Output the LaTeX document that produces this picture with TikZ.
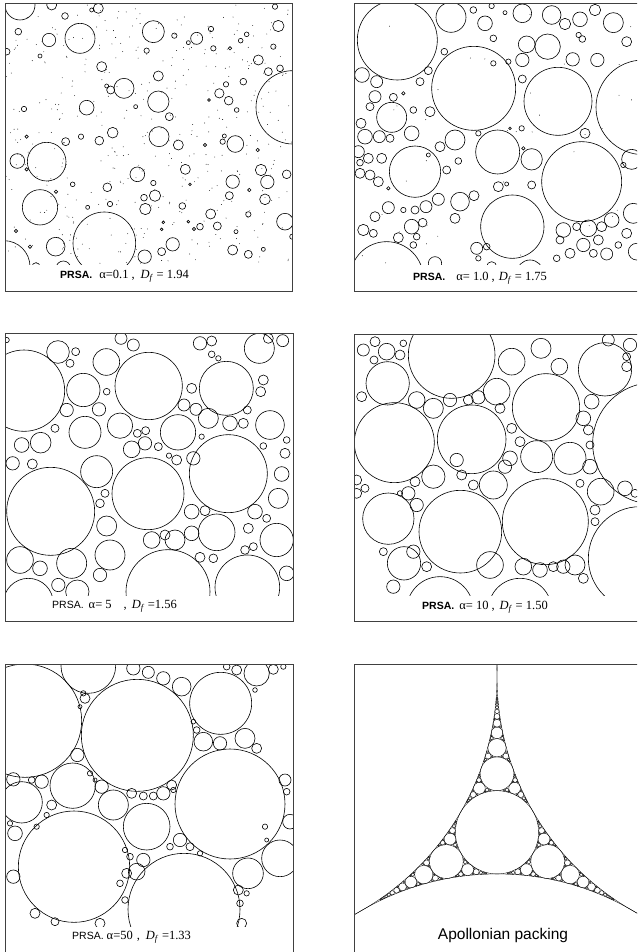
\documentclass[tikz,border=0pt]{standalone}
\usepackage{fontspec}
\setmainfont{Liberation Serif}
\newfontfamily\hvfont{Liberation Sans}
\usepackage{tikz}

\newcommand\prsab{{\hvfont\fontsize{10.5}{12}\selectfont\bfseries PRSA.}}
\newcommand\prsan{{\hvfont\fontsize{10.5}{12}\selectfont PRSA.}}
\newcommand\dfr{\textit{D}\textsubscript{\textit{f}}}

% ===== Apollonian gap filling (curvature k, k*x, k*y) =====
\def\apkmax{1.4}
\def\apsplit#1,#2,#3\relax{\def\ck{#1}\def\cx{#2}\def\cy{#3}}
\newcommand\apgap[4]{%
  \begingroup
  \apsplit#1\relax \let\ka\ck \let\xa\cx \let\ya\cy
  \apsplit#2\relax \let\kb\ck \let\xb\cx \let\yb\cy
  \apsplit#3\relax \let\kc\ck \let\xc\cx \let\yc\cy
  \apsplit#4\relax \let\kd\ck \let\xd\cx \let\yd\cy
  \edef\kn{\fpeval{2*(\ka+\kb+\kc)-\kd}}%
  \ifnum\fpeval{\kn<\apkmax}=1\relax
    \edef\xn{\fpeval{2*(\xa+\xb+\xc)-\xd}}%
    \edef\yn{\fpeval{2*(\ya+\yb+\yc)-\yd}}%
    \edef\apx{\fpeval{round(\xn/\kn,3)}}%
    \edef\apy{\fpeval{round(\yn/\kn,3)}}%
    \edef\apr{\fpeval{round(1/\kn,3)}}%
    \draw[apcirc] (\apx,\apy) circle (\apr);
    \edef\cn{\kn,\xn,\yn}%
    \edef\apnext{\noexpand\apgap{\cn}{#1}{#2}{#3}%
      \noexpand\apgap{\cn}{#2}{#3}{#1}%
      \noexpand\apgap{\cn}{#1}{#3}{#2}}%
    \apnext
  \fi
  \endgroup}

\begin{document}
\begin{tikzpicture}[x=1pt,y=-1pt,
  pcirc/.style={line width=0.6pt},
  apcirc/.style={line width=0.35pt},
  frame/.style={draw=black!75, line width=0.8pt},
  lab/.style={anchor=west, inner sep=0pt, font=\fontsize{12.5}{14}\selectfont}]
\useasboundingbox (0,0) rectangle (637,952);
\clip (0,0) rectangle (637,952);

% ===== panel 1: alpha = 0.1 =====
\begin{scope}[shift={(0,0)}, scale=1/3]
\begin{scope}
\clip (15,10) rectangle (878,795);
\foreach \px/\py/\pr in {60/15/45, 155/15/15, 295/25/15, 195/48/10, 275/30/6, 240/115/45,
  147/120/20, 55/95/10, 20/155/10, 120/168/6, 460/95/33, 523/107/8, 590/115/18, 633/87/8,
  640/145/8, 565/128/6, 440/152/8, 690/145/5, 722/122/7, 740/103/7, 835/78/17, 825/20/8,
  820/140/8, 775/180/15, 805/215/12, 840/205/10, 878/322/110, 305/200/15, 475/228/15,
  372/265/30, 332/270/12, 320/258/6, 475/305/32, 508/350/12, 260/323/22, 407/320/6,
  72/327/8, 658/280/14, 686/302/13, 678/253/8, 730/245/10, 710/330/7, 627/300/4,
  477/410/30, 535/435/15, 338/398/16, 298/422/13, 243/410/8, 197/425/12, 80/410/5,
  706/432/25, 673/408/6, 668/425/8, 615/435/5, 773/450/5, 140/485/58, 52/483/22, 80/508/5,
  218/553/7, 412/523/22, 556/508/15, 460/549/8, 322/562/13, 465/587/17, 432/593/10,
  436/627/17, 330/612/8, 547/618/10, 570/553/4, 698/545/20, 783/510/17, 802/546/20,
  860/523/13, 748/570/5, 688/587/12, 795/598/16, 120/622/53, 168/575/5, 263/622/6,
  632/642/15, 745/643/8, 855/665/25, 877/710/8, 652/678/12, 600/680/10, 582/687/5,
  565/665/4, 490/667/4, 485/688/4, 313/730/94, 12/800/78, 167/740/28, 108/800/12,
  190/805/22, 48/693/5, 90/740/5, 434/770/20, 518/733/20, 485/755/12, 698/750/15,
  745/763/12, 790/748/6, 708/695/6}
  \draw[pcirc] (\px,\py) circle (\pr);
% scattered fines
\pgfmathsetseed{4217}
\foreach \i in {1,...,420}
  \fill ({18+857*rnd},{14+778*rnd}) circle (1.3);
\end{scope}
\draw[frame] (15,10) rectangle (878,875);
\end{scope}
\node[lab] (lab1) at (60,276) {\prsab\hspace{7pt}α=0.1\hspace{3pt},\hspace{6pt}\dfr{} = 1.94};

% ===== panel 2: alpha = 1.0 =====
\begin{scope}[shift={(350,0)}, scale=1/3]
\begin{scope}
\clip (12,10) rectangle (900,795);
\foreach \px/\py/\pr in {142/120/120, 371/265/126, 624/304/102, 880/322/142, 443/456/66,
  695/545/120, 195/515/77, 487/680/95, 125/352/45, 303/52/45, 517/40/28, 605/45/28,
  593/140/38, 530/133/25, 790/68/30, 735/30/17, 690/58/22, 645/72/17, 668/178/20,
  742/180/20, 697/117/10, 686/105/8, 830/125/15, 405/70/22, 430/115/10, 517/180/20,
  517/237/12, 475/185/8, 370/30/10, 425/18/8, 465/38/6, 36/225/22, 80/245/18, 75/290/18,
  60/320/12, 130/292/12, 33/370/15, 45/410/22, 88/410/18, 120/415/12, 185/400/22,
  210/245/12, 240/335/15, 190/330/10, 315/420/30, 270/440/15, 235/465/6, 25/455/18,
  55/475/15, 95/475/15, 30/488/10, 30/520/15, 60/525/15, 85/545/15, 115/565/5, 290/510/12,
  325/483/10, 545/478/32, 520/445/5, 545/555/12, 445/560/15, 470/552/6, 372/587/15,
  330/605/28, 265/598/18, 228/620/18, 195/630/12, 160/630/8, 115/623/18, 75/650/15,
  185/680/22, 218/668/13, 315/655/15, 40/690/17, 70/700/12, 145/713/15, 200/710/10,
  190/735/10, 110/835/110, 380/745/18, 385/775/8, 410/740/10, 425/800/15, 540/820/40,
  255/790/20, 640/690/22, 680/680/12, 715/685/25, 755/680/15, 785/660/22, 630/720/12,
  700/735/20, 745/720/15, 770/762/18, 730/760/12, 660/760/15, 620/775/10, 805/735/10,
  830/700/15, 850/640/30, 845/478/30, 860/755/25, 705/400/15, 430/190/8, 385/400/8,
  515/385/8, 480/385/4, 820/495/8, 283/155/10, 235/212/12, 160/280/5}
  \draw[pcirc] (\px,\py) circle (\pr);
\pgfmathsetseed{911}
\foreach \i in {1,...,40}
  \fill ({15+850*rnd},{14+778*rnd}) circle (1.3);
\end{scope}
\draw[frame] (12,10) rectangle (876,873);
\end{scope}
\node[lab] (lab2) at (413,278) {\prsab\hspace{11pt}α= 1.0\hspace{3pt},\hspace{4pt}\dfr{} = 1.75};

% ===== panel 3: alpha = 5 =====
\begin{scope}[shift={(0,320)}, scale=1/3]
\begin{scope}
\clip (15,40) rectangle (880,825);
\foreach \px/\py/\pr in {72/212/122, 446/198/101, 679/205/81, 685/461/117, 444/521/108,
  152/574/132, 650/637/55, 504/815/126, 742/802/97, 250/210/50, 319/126/40, 174/96/34,
  255/337/48, 360/317/38, 534/337/53, 810/315/43, 778/85/45, 290/455/48, 122/368/31,
  65/375/22, 38/430/20, 97/432/15, 215/730/45, 60/720/40, 120/745/22, 85/850/75,
  232/815/35, 330/705/45, 320/618/30, 455/660/25, 525/660/30, 495/645/15, 575/640/22,
  575/575/22, 615/572/15, 765/575/22, 800/595/12, 745/625/15, 830/660/50, 835/535/30,
  845/462/22, 855/400/15, 860/360/10, 860/760/22, 735/690/13, 760/680/12, 600/712/15,
  640/715/13, 300/765/20, 175/795/20, 300/550/13, 315/520/12, 200/270/20, 165/325/12,
  210/130/12, 227/95/12, 320/215/10, 297/268/20, 395/388/25, 435/370/20, 437/332/12,
  412/340/12, 475/380/12, 507/407/8, 552/255/18, 588/268/18, 625/295/30, 690/310/22,
  730/310/15, 742/270/12, 782/215/15, 790/180/15, 600/70/20, 635/63/15, 635/103/10,
  655/115/8, 363/55/18, 400/75/18, 575/205/15, 580/415/20, 530/420/15, 20/60/8, 848/62/18,
  805/55/15, 790/378/10, 605/350/8}
  \draw[pcirc] (\px,\py) circle (\pr);
\end{scope}
\draw[frame] (15,40) rectangle (880,905);
\end{scope}
\node[lab] (lab3) at (52,606) {\prsan\hspace{5pt}α= 5\hspace{12pt},\hspace{5pt}\dfr{} =1.56};

% ===== panel 4: alpha = 10 =====
\begin{scope}[shift={(350,320)}, scale=1/3]
\begin{scope}
\clip (12,42) rectangle (900,825);
\foreach \px/\py/\pr in {305/105/130, 133/368/120, 365/358/103, 588/262/101, 331/635/124,
  586/605/129, 765/148/80, 910/370/182, 870/715/155, 113/190/65, 115/596/77, 162/730/50,
  250/470/35, 430/495/42, 440/215/40, 485/125/40, 560/410/48, 660/415/48, 752/515/40,
  628/140/25, 573/85/30, 110/95/25, 40/90/18, 72/120/12, 150/105/15, 160/70/10, 250/265/30,
  300/240/20, 200/240/25, 355/240/15, 385/232/20, 450/265/15, 485/325/15, 510/365/15,
  480/415/22, 465/440/20, 700/295/22, 715/330/15, 720/375/12, 720/440/22, 690/490/12,
  725/245/22, 830/140/15, 830/110/12, 775/60/18, 840/75/20, 320/420/20, 335/465/15,
  370/495/15, 175/520/20, 200/555/20, 195/485/15, 150/520/8, 20/480/15, 20/520/15,
  45/505/12, 35/230/15, 735/570/15, 735/605/12, 825/505/22, 855/520/12, 420/735/40,
  520/740/25, 570/750/22, 610/740/15, 640/740/20, 675/735/30, 700/775/15, 130/800/20,
  270/870/100, 510/870/95, 190/695/20, 100/695/12, 230/740/15, 75/65/15}
  \draw[pcirc] (\px,\py) circle (\pr);
\end{scope}
\draw[frame] (12,42) rectangle (876,905);
\end{scope}
\node[lab] (lab4) at (422,607) {\prsab\hspace{5pt}α= 10\hspace{3pt},\hspace{5pt}\dfr{} = 1.50};

% ===== panel 5: alpha = 50 =====
\begin{scope}[shift={(0,640)}, scale=1/3]
\begin{scope}
\clip (15,72) rectangle (880,858);
\foreach \px/\py/\pr in {75/242/170, 412/286/168, 662/190/93, 690/492/165, 222/680/167,
  552/808/168, 440/560/70, 218/437/68, 265/78/82, 744/700/46, 840/655/55, 65/487/62,
  770/100/38, 545/140/28, 490/115/20, 445/97/18, 400/85/20, 710/90/15, 820/88/15,
  850/80/8, 680/80/10, 735/295/30, 610/305/28, 660/310/20, 770/325/15, 340/495/45,
  305/440/20, 395/460/15, 430/468/12, 460/468/12, 490/460/20, 125/425/20, 95/420/10,
  40/418/20, 155/495/15, 232/345/20, 255/175/15, 45/580/22, 40/710/20, 855/420/18,
  870/545/22, 860/455/10, 430/660/20, 410/695/25, 380/700/15, 360/730/10, 540/600/20,
  570/620/12, 510/620/10, 715/750/15, 105/820/15, 300/850/15, 165/845/12, 375/780/10,
  725/850/15, 515/435/15, 270/400/8, 285/420/6, 250/160/8, 240/200/6, 590/270/10,
  580/245/7, 765/150/7, 600/640/8, 375/630/8, 390/650/10, 110/560/8, 30/550/8, 795/560/8,
  800/600/6, 740/760/8, 720/790/10, 140/525/8, 520/450/8}
  \draw[pcirc] (\px,\py) circle (\pr);
\end{scope}
\draw[frame] (15,72) rectangle (880,940);
\end{scope}
\node[lab] (lab5) at (72,937) {\prsan\hspace{3pt}α=50\hspace{4pt},\hspace{6pt}\dfr{} =1.33};

% ===== panel 6: Apollonian packing =====
\begin{scope}
\clip (354,664) rectangle (642,953);
\draw[apcirc] (228,677) circle (269);
\draw[apcirc] (766,677) circle (269);
\draw[apcirc] (497,{677+269*sqrt(3)}) circle (269);
\edef\apA{\fpeval{1/269},\fpeval{228/269},\fpeval{677/269}}
\edef\apC{\fpeval{1/269},\fpeval{766/269},\fpeval{677/269}}
\edef\apB{\fpeval{1/269},\fpeval{497/269},\fpeval{(677+269*sqrt(3))/269}}
\edef\apO{\fpeval{(3-2*sqrt(3))/269},\fpeval{497*(3-2*sqrt(3))/269},\fpeval{(677+269/sqrt(3))*(3-2*sqrt(3))/269}}
\edef\apstart{\noexpand\apgap{\apA}{\apB}{\apC}{\apO}}
\apstart
\end{scope}
\draw[frame] (354,664) rectangle (642,953);
\node[font=\hvfont\fontsize{15.5}{17}\selectfont] (lab6) at (503,935) {Apollonian packing};
\end{tikzpicture}
\end{document}
